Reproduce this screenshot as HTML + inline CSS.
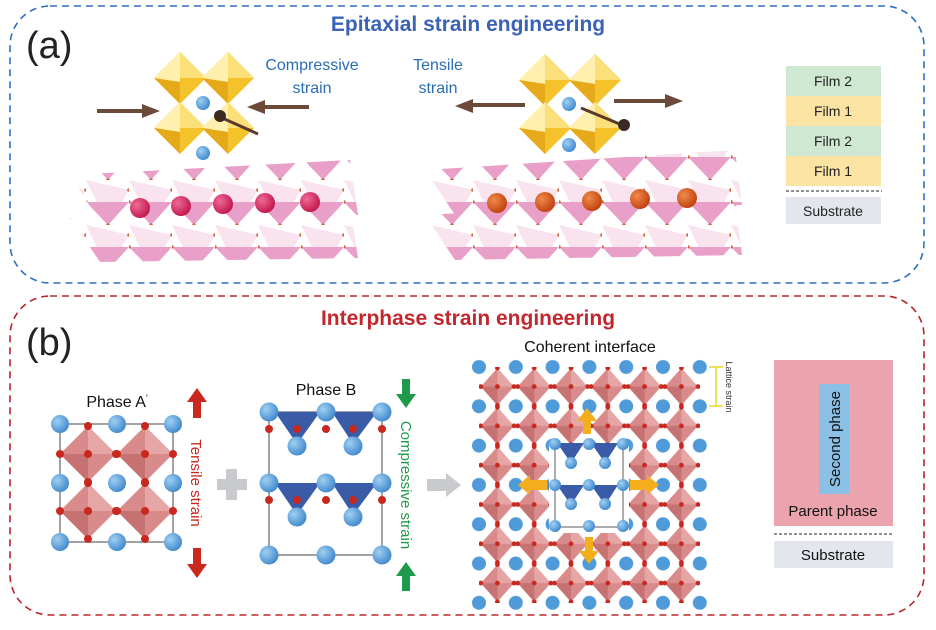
<!DOCTYPE html>
<html><head><meta charset="utf-8"><style>
body{margin:0;background:#fff;}
svg{display:block;font-family:"Liberation Sans",sans-serif;}
</style></head><body>
<svg width="936" height="630" viewBox="0 0 936 630" xmlns="http://www.w3.org/2000/svg">
<defs>
<pattern id="tri" x="0" y="0" width="43" height="45" patternUnits="userSpaceOnUse">
<polygon points="0,0 43,10 22,45" fill="#f8e3ee"/>
<polygon points="0,22 43,22 22,45" fill="#e8a0c8"/>
<circle cx="0" cy="22" r="1.8" fill="#d8643a"/><circle cx="22" cy="45" r="1.8" fill="#d8643a"/><circle cx="43" cy="10" r="1.8" fill="#d8643a"/>
</pattern>
<pattern id="lat" x="479" y="367" width="36.8" height="39.3" patternUnits="userSpaceOnUse">
<polygon points="18.4,1 35,19.6 18.4,38.3 1.8,19.6" fill="#d98a8a"/>
<polygon points="18.4,1 35,19.6 18.4,19.6" fill="#e6a6a6"/>
<polygon points="1.8,19.6 18.4,38.3 18.4,19.6" fill="#c77272"/>
<circle cx="18.4" cy="1" r="2.4" fill="#c8281e"/><circle cx="18.4" cy="38.3" r="2.4" fill="#c8281e"/>
<circle cx="1.8" cy="19.6" r="2.4" fill="#c8281e"/><circle cx="35" cy="19.6" r="2.4" fill="#c8281e"/>
<circle cx="18.4" cy="19.6" r="2.4" fill="#c8281e"/>
</pattern>
<pattern id="sph" x="460.6" y="347.35" width="36.8" height="39.3" patternUnits="userSpaceOnUse">
<circle cx="18.4" cy="19.65" r="7" fill="#4f9ad8"/>
</pattern>
<radialGradient id="bs" cx="0.35" cy="0.35" r="0.7"><stop offset="0" stop-color="#9fd0f2"/><stop offset="1" stop-color="#3f88cc"/></radialGradient>
<radialGradient id="mg" cx="0.35" cy="0.35" r="0.7"><stop offset="0" stop-color="#ef6a95"/><stop offset="1" stop-color="#c0164c"/></radialGradient>
<radialGradient id="og" cx="0.35" cy="0.35" r="0.7"><stop offset="0" stop-color="#f08a4a"/><stop offset="1" stop-color="#c0400e"/></radialGradient>
<g id="oct"><polygon points="0,-26 26,0 0,26 -26,0" fill="#f4c22a"/><polygon points="0,-26 26,0 0,0" fill="#fbe07a"/><polygon points="0,-26 -26,0 0,4" fill="#fff0b0"/><polygon points="-26,0 0,26 0,4" fill="#e6a91a"/></g>
<g id="poct"><polygon points="0,-28 28,0 0,28 -28,0" fill="#d98a8a"/><polygon points="0,-28 28,0 0,0" fill="#e6a6a6"/><polygon points="-28,0 0,28 0,0" fill="#c77272"/>
<circle cx="0" cy="-28" r="4" fill="#c8281e"/><circle cx="0" cy="28" r="4" fill="#c8281e"/><circle cx="-28" cy="0" r="4" fill="#c8281e"/><circle cx="28" cy="0" r="4" fill="#c8281e"/><circle r="4" fill="#c8281e"/></g>
</defs>

<!-- Panel a -->
<rect x="10" y="6" width="914" height="277" rx="40" fill="none" stroke="#2f6fc0" stroke-width="1.6" stroke-dasharray="7,5"/>
<text x="468" y="31" text-anchor="middle" font-size="21" font-weight="bold" fill="#3a62b8">Epitaxial strain engineering</text>
<text x="26" y="58" font-size="38" fill="#222">(a)</text>
<text x="312" y="70" text-anchor="middle" font-size="16" fill="#2a6db5">Compressive</text>
<text x="312" y="93" text-anchor="middle" font-size="16" fill="#2a6db5">strain</text>
<text x="438" y="70" text-anchor="middle" font-size="16" fill="#2a6db5">Tensile</text>
<text x="438" y="93" text-anchor="middle" font-size="16" fill="#2a6db5">strain</text>

<polygon points="70,175 350,160 358,215 100,222" fill="url(#tri)"/>
<polygon points="70,218 350,205 358,258 100,262" fill="url(#tri)"/>
<g fill="url(#mg)"><circle cx="140" cy="208" r="10"/><circle cx="181" cy="206" r="10"/><circle cx="223" cy="204" r="10"/><circle cx="265" cy="203" r="10"/><circle cx="310" cy="202" r="10"/></g>
<use href="#oct" x="180" y="78"/><use href="#oct" x="228" y="78"/><use href="#oct" x="180" y="128"/><use href="#oct" x="228" y="128"/>
<circle cx="203" cy="103" r="7" fill="url(#bs)"/><circle cx="203" cy="153" r="7" fill="url(#bs)"/>
<line x1="220" y1="117" x2="258" y2="134" stroke="#5a3a2a" stroke-width="3"/><circle cx="220" cy="116" r="6" fill="#3a2a22"/>
<line x1="97" y1="111" x2="145" y2="111" stroke="#6b4a3a" stroke-width="4"/><polygon points="160,111 142,104 142,118" fill="#6b4a3a"/>
<line x1="309" y1="107" x2="262" y2="107" stroke="#6b4a3a" stroke-width="4"/><polygon points="247,107 265,100 265,114" fill="#6b4a3a"/>

<polygon points="425,170 735,150 742,205 455,215" fill="url(#tri)"/>
<polygon points="425,215 735,198 742,255 455,260" fill="url(#tri)"/>
<g fill="url(#og)"><circle cx="497" cy="203" r="10"/><circle cx="545" cy="202" r="10"/><circle cx="592" cy="201" r="10"/><circle cx="640" cy="199" r="10"/><circle cx="687" cy="198" r="10"/></g>
<use href="#oct" x="545" y="80"/><use href="#oct" x="595" y="80"/><use href="#oct" x="545" y="128"/><use href="#oct" x="595" y="128"/>
<circle cx="569" cy="104" r="7" fill="url(#bs)"/><circle cx="569" cy="145" r="7" fill="url(#bs)"/>
<line x1="581" y1="108" x2="622" y2="125" stroke="#5a3a2a" stroke-width="3"/><circle cx="624" cy="125" r="6" fill="#3a2a22"/>
<line x1="525" y1="105" x2="470" y2="105" stroke="#6b4a3a" stroke-width="4"/><polygon points="455,106 473,99 473,113" fill="#6b4a3a"/>
<line x1="614" y1="101" x2="668" y2="101" stroke="#6b4a3a" stroke-width="4"/><polygon points="683,101 665,94 665,108" fill="#6b4a3a"/>

<rect x="786" y="66" width="95" height="30" fill="#cfe8d2"/>
<rect x="786" y="96" width="95" height="30" fill="#fbe3a3"/>
<rect x="786" y="126" width="95" height="30" fill="#cfe8d2"/>
<rect x="786" y="156" width="95" height="30" fill="#fbe3a3"/>
<line x1="786" y1="191" x2="882" y2="191" stroke="#222" stroke-width="1" stroke-dasharray="3,2"/>
<rect x="786" y="197" width="95" height="27" fill="#e4e6ee"/>
<g font-size="14" fill="#222" text-anchor="middle"><text x="833" y="86">Film 2</text><text x="833" y="116">Film 1</text><text x="833" y="146">Film 2</text><text x="833" y="176">Film 1</text><text x="833" y="216">Substrate</text></g>

<!-- Panel b -->
<rect x="10" y="296" width="914" height="319" rx="40" fill="none" stroke="#b8262b" stroke-width="1.6" stroke-dasharray="7,5"/>
<text x="468" y="325" text-anchor="middle" font-size="21" font-weight="bold" fill="#c2272e">Interphase strain engineering</text>
<text x="26" y="355" font-size="38" fill="#222">(b)</text>

<text x="117" y="407" text-anchor="middle" font-size="16" fill="#111">Phase A<tspan font-size="9" dy="-6">'</tspan></text>
<rect x="60" y="424" width="113" height="118" fill="none" stroke="#444" stroke-width="1"/>
<use href="#poct" x="88" y="454"/><use href="#poct" x="145" y="454"/><use href="#poct" x="88" y="511"/><use href="#poct" x="145" y="511"/>
<g fill="url(#bs)"><circle cx="60" cy="424" r="9"/><circle cx="117" cy="424" r="9"/><circle cx="173" cy="424" r="9"/><circle cx="60" cy="483" r="9"/><circle cx="117" cy="483" r="9"/><circle cx="173" cy="483" r="9"/><circle cx="60" cy="542" r="9"/><circle cx="117" cy="542" r="9"/><circle cx="173" cy="542" r="9"/></g>
<polygon points="197,388 207,402 201,402 201,418 193,418 193,402 187,402" fill="#c8281e"/>
<polygon points="197,578 207,564 201,564 201,548 193,548 193,564 187,564" fill="#c8281e"/>
<text transform="translate(191,483) rotate(90)" text-anchor="middle" font-size="15" fill="#c8281e">Tensile strain</text>
<rect x="217" y="479" width="30" height="11" fill="#c9cacd"/><rect x="226" y="469" width="11" height="31" fill="#c9cacd"/>

<text x="326" y="395" text-anchor="middle" font-size="16" fill="#111">Phase B</text>
<rect x="269" y="412" width="113" height="143" fill="none" stroke="#444" stroke-width="1"/>
<polygon points="275,412 320,412 297,444" fill="#3a5ca8"/><polygon points="332,412 377,412 353,444" fill="#3a5ca8"/>
<polygon points="275,483 320,483 297,515" fill="#3a5ca8"/><polygon points="332,483 377,483 353,515" fill="#3a5ca8"/>
<g fill="#c8281e"><circle cx="269" cy="429" r="4"/><circle cx="297" cy="429" r="4"/><circle cx="326" cy="429" r="4"/><circle cx="353" cy="429" r="4"/><circle cx="382" cy="429" r="4"/>
<circle cx="269" cy="500" r="4"/><circle cx="297" cy="500" r="4"/><circle cx="326" cy="500" r="4"/><circle cx="353" cy="500" r="4"/><circle cx="382" cy="500" r="4"/></g>
<g fill="url(#bs)"><circle cx="269" cy="412" r="9.5"/><circle cx="326" cy="412" r="9.5"/><circle cx="382" cy="412" r="9.5"/><circle cx="297" cy="446" r="9.5"/><circle cx="353" cy="446" r="9.5"/>
<circle cx="269" cy="483" r="9.5"/><circle cx="326" cy="483" r="9.5"/><circle cx="382" cy="483" r="9.5"/><circle cx="297" cy="517" r="9.5"/><circle cx="353" cy="517" r="9.5"/>
<circle cx="269" cy="555" r="9.5"/><circle cx="326" cy="555" r="9.5"/><circle cx="382" cy="555" r="9.5"/></g>
<polygon points="406,408 416,394 410,394 410,379 402,379 402,394 396,394" fill="#1f9a4a"/>
<polygon points="406,562 416,576 410,576 410,591 402,591 402,576 396,576" fill="#1f9a4a"/>
<text transform="translate(401,485) rotate(90)" text-anchor="middle" font-size="15" fill="#1f9a4a">Compressive strain</text>
<polygon points="427,479 446,479 446,473 461,485 446,497 446,491 427,491" fill="#c9cacd"/>

<text x="590" y="352" text-anchor="middle" font-size="16" fill="#111">Coherent interface</text>
<rect x="479" y="367" width="221" height="236" fill="url(#lat)"/>
<rect x="460.6" y="347.35" width="257.6" height="275.1" fill="url(#sph)"/>
<rect x="549" y="443" width="80" height="90" fill="#fff"/>
<rect x="555" y="444" width="68" height="83" fill="none" stroke="#333" stroke-width="0.8"/>
<polygon points="557,443 584,443 571,463" fill="#3a5ca8"/><polygon points="591,443 618,443 605,463" fill="#3a5ca8"/>
<polygon points="557,485 584,485 571,505" fill="#3a5ca8"/><polygon points="591,485 618,485 605,505" fill="#3a5ca8"/>
<g fill="url(#bs)"><circle cx="555" cy="444" r="6"/><circle cx="589" cy="444" r="6"/><circle cx="623" cy="444" r="6"/><circle cx="571" cy="463" r="6"/><circle cx="605" cy="463" r="6"/>
<circle cx="555" cy="485" r="6"/><circle cx="589" cy="485" r="6"/><circle cx="623" cy="485" r="6"/><circle cx="571" cy="504" r="6"/><circle cx="605" cy="504" r="6"/>
<circle cx="555" cy="526" r="6"/><circle cx="589" cy="526" r="6"/><circle cx="623" cy="526" r="6"/></g>
<g fill="#f4ae1c">
<polygon points="587,408 597,421 591,421 591,434 583,434 583,421 577,421"/>
<polygon points="589,564 599,551 593,551 593,537 585,537 585,551 579,551"/>
<polygon points="518,485 530,475 530,480 547,480 547,490 530,490 530,495"/>
<polygon points="659,485 647,475 647,480 630,480 630,490 647,490 647,495"/>
</g>
<g stroke="#e8d82a" stroke-width="1.5"><line x1="716" y1="367" x2="716" y2="406"/><line x1="709" y1="367" x2="723" y2="367"/><line x1="709" y1="406" x2="723" y2="406"/></g>
<text transform="translate(726,387) rotate(90)" text-anchor="middle" font-size="9" fill="#333">Lattice strain</text>

<rect x="774" y="360" width="119" height="166" fill="#eba3ae"/>
<rect x="819" y="384" width="30" height="110" fill="#8ac0e6"/>
<text transform="translate(840,439) rotate(-90)" text-anchor="middle" font-size="15" fill="#111">Second phase</text>
<text x="833" y="516" text-anchor="middle" font-size="15" fill="#111">Parent phase</text>
<line x1="774" y1="534" x2="894" y2="534" stroke="#222" stroke-width="1" stroke-dasharray="3,2"/>
<rect x="774" y="541" width="119" height="27" fill="#e4e6ee"/>
<text x="833" y="560" text-anchor="middle" font-size="15" fill="#111">Substrate</text>
</svg>
</body></html>
